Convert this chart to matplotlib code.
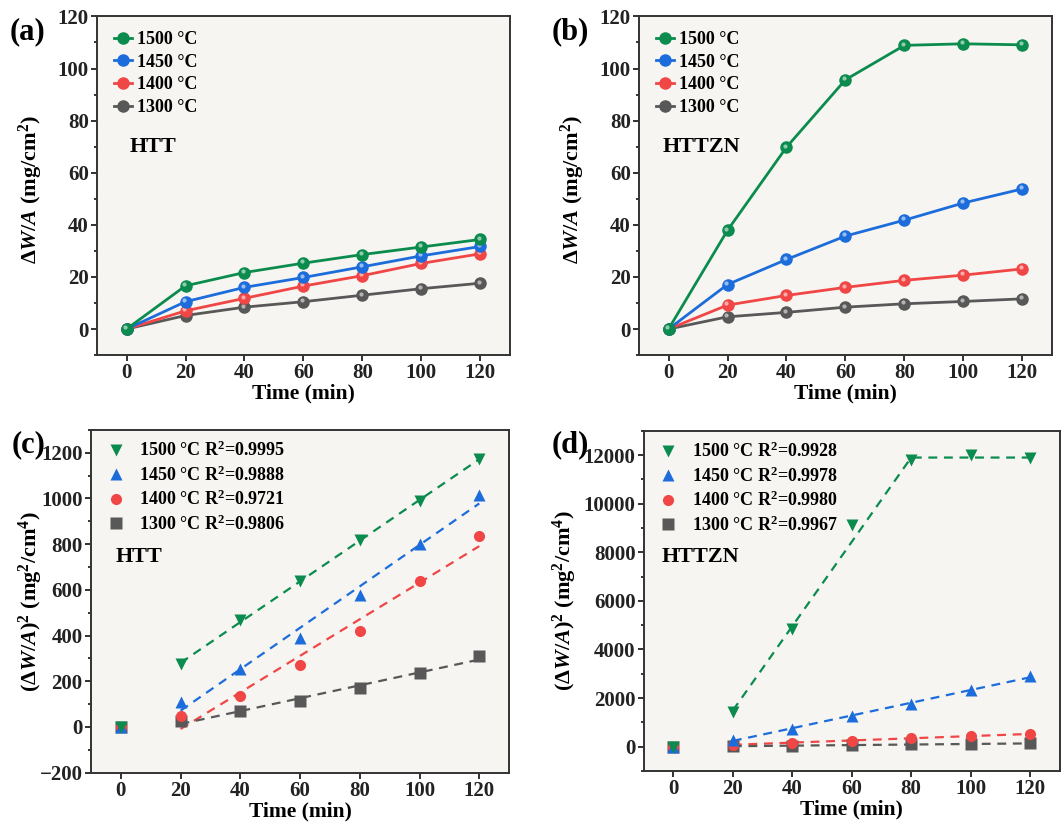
import numpy as np
import matplotlib
matplotlib.use('Agg')
import matplotlib.pyplot as plt
import matplotlib.transforms as mtransforms
from matplotlib.ticker import MultipleLocator

plt.rcParams['font.family'] = ['Liberation Serif', 'DejaVu Serif']
plt.rcParams['font.weight'] = 'bold'
plt.rcParams['axes.labelweight'] = 'bold'
plt.rcParams['mathtext.fontset'] = 'custom'
plt.rcParams['mathtext.rm'] = 'Liberation Serif:bold'
plt.rcParams['mathtext.bf'] = 'Liberation Serif:bold'
plt.rcParams['mathtext.it'] = 'Liberation Serif:italic:bold'
plt.rcParams['axes.linewidth'] = 1.4
plt.rcParams['axes.edgecolor'] = '#333333'

# oxidation time (min)
time = np.array([0, 20, 40, 60, 80, 100, 120])

temps = ['1500 °C', '1450 °C', '1400 °C', '1300 °C']
colors = ['#0b8c4e', '#1c6ddb', '#f04646', '#585858']

# mass gain per area, HTT coating (mg/cm2)
htt_1500 = [0, 16.6, 21.7, 25.3, 28.6, 31.5, 34.4]
htt_1450 = [0, 10.5, 16.0, 19.8, 23.9, 28.1, 31.7]
htt_1400 = [0, 7.0, 11.8, 16.5, 20.5, 25.2, 28.9]
htt_1300 = [0, 5.2, 8.4, 10.5, 13.0, 15.5, 17.6]

# mass gain per area, HTTZN coating (mg/cm2)
httzn_1500 = [0, 37.9, 69.8, 95.7, 108.9, 109.5, 109.1]
httzn_1450 = [0, 17.1, 26.7, 35.7, 41.8, 48.4, 53.8]
httzn_1400 = [0, 9.2, 12.9, 16.0, 18.7, 20.7, 23.1]
httzn_1300 = [0, 4.7, 6.4, 8.4, 9.7, 10.6, 11.6]

# squared mass gain, HTT (mg2/cm4)
htt_sq_1500 = [0, 274, 467, 638, 817, 988, 1173]
htt_sq_1450 = [0, 111, 254, 390, 578, 800, 1015]
htt_sq_1400 = [0, 48, 135, 271, 420, 637, 837]
htt_sq_1300 = [0, 26, 70, 113, 169, 236, 310]
htt_r2 = ['0.9995', '0.9888', '0.9721', '0.9806']

# squared mass gain, HTTZN (mg2/cm4)
httzn_sq_1500 = [0, 1440, 4830, 9120, 11800, 12000, 11890]
httzn_sq_1450 = [0, 285, 740, 1275, 1750, 2345, 2890]
httzn_sq_1400 = [0, 85, 166, 256, 350, 428, 534]
httzn_sq_1300 = [0, 22, 41, 71, 94, 112, 135]
httzn_r2 = ['0.9928', '0.9978', '0.9980', '0.9967']

sq_markers = ['v', '^', 'o', 's']


def ball_plot(ax, fig, y, color, label, z):
    """Line with shaded ball markers."""
    ax.plot(time, y, '-', color=color, lw=2.0, marker='o', ms=8,
            mfc=color, mec=color, label=label, zorder=z)
    hl = mtransforms.offset_copy(ax.transData, fig=fig, x=-1.2, y=1.2, units='points')
    ax.plot(time, y, 'o', ms=3, color='white', alpha=0.55, mec='none',
            transform=hl, zorder=z + 0.5)


def style_axes(ax, ylim, ymajor, yminor):
    ax.set_facecolor('#f7f5f1')
    ax.set_xlim(-10, 130)
    ax.set_ylim(*ylim)
    ax.xaxis.set_major_locator(MultipleLocator(20))
    ax.yaxis.set_major_locator(MultipleLocator(ymajor))
    ax.yaxis.set_minor_locator(MultipleLocator(yminor))
    ax.tick_params(which='major', direction='out', length=4, width=1.3,
                   labelsize=15, colors='#222222', pad=2)
    ax.tick_params(which='minor', direction='out', length=2.5, width=1.1)
    ax.tick_params(axis='x', which='minor', bottom=False)
    ax.set_xlabel('Time (min)', fontsize=15.5, labelpad=0)


fig = plt.figure(figsize=(10.64, 8.22), dpi=100)
ax_a = fig.add_axes([0.0912, 0.568, 0.388, 0.412])
ax_b = fig.add_axes([0.6006, 0.568, 0.388, 0.412])
ax_c = fig.add_axes([0.0855, 0.0600, 0.393, 0.4170])
ax_d = fig.add_axes([0.605, 0.062, 0.391, 0.414])

# (a) and (b): mass gain curves, hottest run drawn on top
for ax, series, name, tx in [
        (ax_a, [htt_1500, htt_1450, htt_1400, htt_1300], 'HTT', 0.08),
        (ax_b, [httzn_1500, httzn_1450, httzn_1400, httzn_1300], 'HTTZN', 0.056)]:
    for i, (y, c, lab) in enumerate(zip(series, colors, temps)):
        ball_plot(ax, fig, y, c, lab, 10 - 2 * i)
    style_axes(ax, (-10, 120), 20, 10)
    ax.set_ylabel(r'$\Delta\mathit{W/A}$ (mg/cm$^{2}$)', fontsize=16)
    ax.yaxis.set_label_coords(-0.126, 0.49)
    ax.text(tx, 0.614, name, transform=ax.transAxes, fontsize=16, va='center')
    ax.legend(loc='upper left', bbox_to_anchor=(0.005, 1.0), frameon=False,
              fontsize=13, handlelength=1.0, handletextpad=0.3,
              labelspacing=0.32, borderpad=0.3)

# (c) and (d): parabolic plots with linear fits
for ax, series, r2, name, tx in [
        (ax_c, [htt_sq_1500, htt_sq_1450, htt_sq_1400, htt_sq_1300], htt_r2, 'HTT', 0.06),
        (ax_d, [httzn_sq_1500, httzn_sq_1450, httzn_sq_1400, httzn_sq_1300], httzn_r2, 'HTTZN', 0.043)]:
    for i, (y, c, m, r) in enumerate(zip(series, colors, sq_markers, r2)):
        y = np.array(y, dtype=float)
        ax.plot(time, y, m, color=c, ms=8, mec='none', ls='none',
                label=f'{temps[i]} R$^2$={r}', zorder=10 - i)
        if ax is ax_d and i == 0:
            # two-stage fit: linear growth then plateau
            p = np.polyfit(time[1:5], y[1:5], 1)
            plateau = y[4:].mean()
            fx = [20, 80, 120]
            fy = [np.polyval(p, 20), plateau, plateau]
        else:
            p = np.polyfit(time[1:], y[1:], 1)
            fx = [20, 120]
            fy = np.polyval(p, fx)
        ax.plot(fx, fy, '--', color=c, lw=1.6, dashes=(4, 3), zorder=2)
    ax.text(tx, 0.628, name, transform=ax.transAxes, fontsize=16, va='center')
    ax.set_ylabel(r'($\Delta\mathit{W/A}$)$^{2}$ (mg$^{2}$/cm$^{4}$)', fontsize=16)
    ax.legend(loc='upper left', bbox_to_anchor=(-0.01, 1.01), frameon=False,
              fontsize=13, handlelength=1.6, handletextpad=0.5,
              labelspacing=0.28, borderpad=0.3)

style_axes(ax_c, (-200, 1300), 200, 100)
style_axes(ax_d, (-1000, 13000), 2000, 1000)
ax_c.yaxis.set_label_coords(-0.11, 0.5)
ax_d.yaxis.set_label_coords(-0.156, 0.5)

for lab, x, y in [('(a)', 0.009, 0.961), ('(b)', 0.518, 0.961),
                  ('(c)', 0.011, 0.459), ('(d)', 0.518, 0.459)]:
    fig.text(x, y, lab, fontsize=22, va='center')

fig.savefig('out.png', dpi=100)
